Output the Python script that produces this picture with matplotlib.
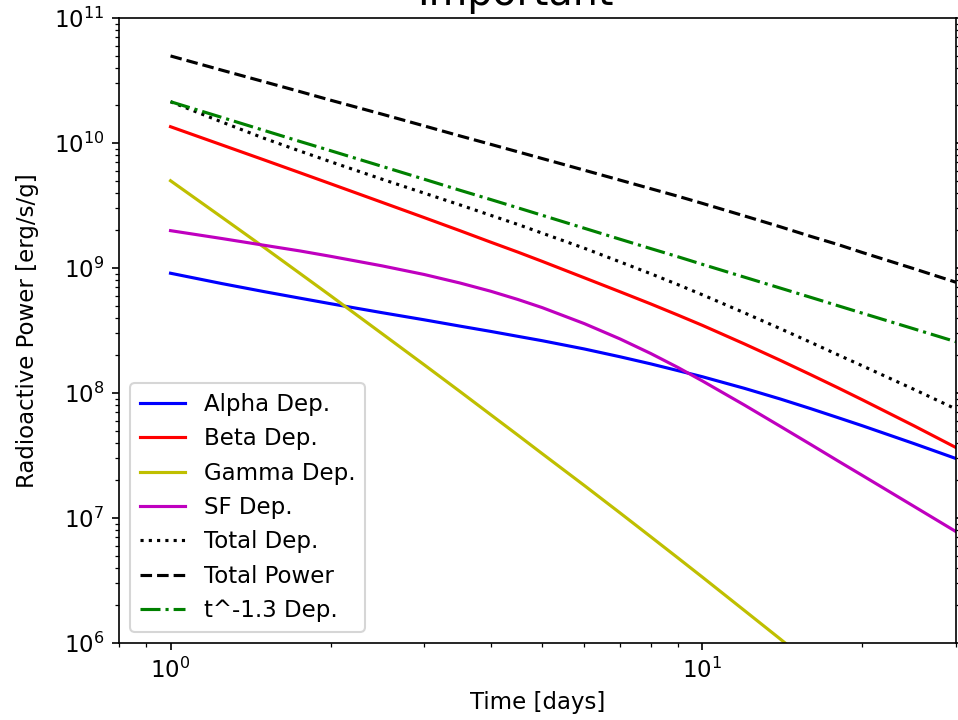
import numpy as np
import matplotlib
matplotlib.use("Agg")
import matplotlib.pyplot as plt

# time grid [days] and deposited / emitted power [erg/s/g]
t_days = [1, 1.25, 1.5, 1.75, 2, 2.5, 3, 3.5, 4, 4.5, 5, 6, 7, 8, 9, 10, 12, 14, 16, 18, 20, 25, 30]

alpha_dep = [9.08e8, 7.5e8, 6.47e8, 5.74e8, 5.18e8, 4.39e8, 3.85e8, 3.43e8, 3.11e8, 2.84e8, 2.62e8, 2.25e8,
             1.95e8, 1.71e8, 1.51e8, 1.35e8, 1.09e8, 8.97e7, 7.49e7, 6.35e7, 5.47e7, 3.94e7, 2.99e7]
beta_dep = [1.35e10, 9.64e9, 7.32e9, 5.79e9, 4.72e9, 3.35e9, 2.53e9, 1.99e9, 1.61e9, 1.34e9, 1.13e9, 8.35e8,
            6.46e8, 5.16e8, 4.2e8, 3.48e8, 2.47e8, 1.83e8, 1.4e8, 1.1e8, 8.82e7, 5.47e7, 3.66e7]
gamma_dep = [4.99e9, 2.54e9, 1.46e9, 9.07e8, 6e8, 2.98e8, 1.68e8, 1.03e8, 6.71e7, 4.6e7, 3.27e7, 1.82e7,
             1.1e7, 7.08e6, 4.79e6, 3.37e6, 1.82e6, 1.08e6, 6.82e5, 4.54e5, 3.16e5, 1.46e5, 7.8e4]
sf_dep = [1.99e9, 1.72e9, 1.52e9, 1.37e9, 1.24e9, 1.04e9, 8.87e8, 7.59e8, 6.52e8, 5.6e8, 4.82e8, 3.59e8,
          2.71e8, 2.07e8, 1.6e8, 1.25e8, 8.01e7, 5.43e7, 3.87e7, 2.86e7, 2.19e7, 1.24e7, 7.78e6]
total_dep = [2.14e10, 1.47e10, 1.09e10, 8.63e9, 7.08e9, 5.13e9, 3.97e9, 3.2e9, 2.64e9, 2.23e9, 1.9e9, 1.44e9,
             1.12e9, 9e8, 7.36e8, 6.11e8, 4.38e8, 3.28e8, 2.54e8, 2.02e8, 1.65e8, 1.07e8, 7.44e7]
total_power = [4.97e10, 3.82e10, 3.09e10, 2.58e10, 2.2e10, 1.7e10, 1.37e10, 1.14e10, 9.76e9, 8.5e9, 7.51e9, 6.06e9,
               5.05e9, 4.31e9, 3.75e9, 3.29e9, 2.61e9, 2.14e9, 1.79e9, 1.54e9, 1.33e9, 9.87e8, 7.69e8]
powerlaw_dep = [2.14e10, 1.6e10, 1.26e10, 1.03e10, 8.68e9, 6.5e9, 5.13e9, 4.19e9, 3.53e9, 3.03e9, 2.64e9, 2.08e9,
                1.7e9, 1.43e9, 1.23e9, 1.07e9, 8.45e8, 6.92e8, 5.82e8, 4.99e8, 4.35e8, 3.26e8, 2.57e8]

fig = plt.figure(figsize=(958 / 150, 720 / 150), dpi=150)
ax = fig.add_axes([119 / 958, 1 - 643 / 720, (956 - 119) / 958, (643 - 18) / 720])

ax.loglog(t_days, alpha_dep, 'b', label='Alpha Dep.')
ax.loglog(t_days, beta_dep, 'r', label='Beta Dep.')
ax.loglog(t_days, gamma_dep, 'y', label='Gamma Dep.')
ax.loglog(t_days, sf_dep, 'm', label='SF Dep.')
ax.loglog(t_days, total_dep, 'k:', label='Total Dep.')
ax.loglog(t_days, total_power, 'k--', label='Total Power')
ax.loglog(t_days, powerlaw_dep, 'g-.', label='t^-1.3 Dep.')

ax.set_xlim(0.8, 30)
ax.set_ylim(1e6, 1e11)
ax.set_xlabel('Time [days]', fontsize=11)
ax.set_ylabel('Radioactive Power [erg/s/g]', fontsize=11, labelpad=7)
ax.set_title('Important', fontsize=19, x=0.473)
ax.tick_params(axis='both', which='both', labelsize=11)
ax.tick_params(axis='y', which='both', right=True)
ax.legend(loc='lower left', fontsize=11)

fig.savefig('out.png', dpi=150)
